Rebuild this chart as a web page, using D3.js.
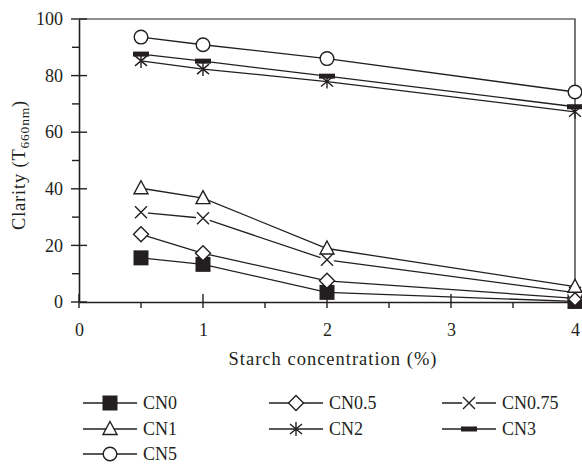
<!DOCTYPE html>
<html>
<head>
<meta charset="utf-8">
<script src="https://cdn.jsdelivr.net/npm/d3@7"></script>
<style>
  body { margin: 0; background: #fff; }
  svg text { font-family: "Liberation Serif", serif; fill: #231f20; }
</style>
</head>
<body>
<svg id="chart" width="582" height="465"></svg>
<script>
// starch concentration (%)
const conc = [0.5, 1, 2, 4];

// clarity (T660nm) for each sample
const cn0   = [15.6, 13.3, 3.4, 0.2];
const cn05  = [23.9, 17.2, 7.5, 1.3];
const cn075 = [31.7, 29.6, 14.9, 3.3];
const cn1   = [40.2, 36.7, 18.9, 5.4];
const cn2   = [85.2, 82.3, 77.9, 67.2];
const cn3   = [87.6, 85.1, 79.8, 69.0];
const cn5   = [93.6, 90.9, 86.0, 74.2];

const seriesNames = ["CN0", "CN0.5", "CN0.75", "CN1", "CN2", "CN3", "CN5"];
const seriesSymbols = ["square", "diamond", "cross", "triangle", "asterisk", "bar", "circle"];
const seriesValues = [cn0, cn05, cn075, cn1, cn2, cn3, cn5];

const xTicks = [0, 1, 2, 3, 4];
const yTicks = [0, 20, 40, 60, 80, 100];

const ink = "#231f20";
const svg = d3.select("svg#chart");

const x = d3.scaleLinear().domain([0, 4]).range([79, 575]);
const y = d3.scaleLinear().domain([0, 100]).range([302, 19]);

// frame: top + right
svg.append("path")
  .attr("d", `M${x(0)},${y(100)}H${x(4)}V${y(0)}`)
  .attr("fill", "none").attr("stroke", ink).attr("stroke-width", 1.2);

// y axis
const gY = svg.append("g").attr("transform", `translate(${x(0)},0)`);
gY.call(d3.axisLeft(y).tickValues(yTicks).tickSize(0).tickPadding(16).tickFormat(d3.format("d")));
gY.select(".domain").attr("stroke", ink).attr("stroke-width", 1.6);
gY.selectAll("text").attr("font-size", 18).attr("font-family", "Liberation Serif").attr("fill", ink);
// major ticks cross the axis, minor ones point out
gY.selectAll("line.major").data(yTicks).enter().append("line")
  .attr("x1", -8).attr("x2", 8).attr("y1", d => y(d)).attr("y2", d => y(d))
  .attr("stroke", ink).attr("stroke-width", 1.4);
gY.selectAll("line.minor").data(d3.range(10, 100, 20)).enter().append("line")
  .attr("x1", -7).attr("x2", 0).attr("y1", d => y(d)).attr("y2", d => y(d))
  .attr("stroke", ink).attr("stroke-width", 1.4);

// x axis
const gX = svg.append("g").attr("transform", `translate(0,${y(0)})`);
gX.call(d3.axisBottom(x).tickValues(xTicks).tickSize(0).tickPadding(21).tickFormat(d3.format("d")));
gX.select(".domain").attr("stroke", ink).attr("stroke-width", 1.6);
gX.selectAll("text").attr("font-size", 18).attr("font-family", "Liberation Serif").attr("fill", ink);
gX.selectAll("line.major").data(xTicks).enter().append("line")
  .attr("y1", -8).attr("y2", 6).attr("x1", d => x(d)).attr("x2", d => x(d))
  .attr("stroke", ink).attr("stroke-width", 1.4);
gX.selectAll("line.minor").data([0.5, 1.5, 2.5, 3.5]).enter().append("line")
  .attr("y1", 0).attr("y2", 6).attr("x1", d => x(d)).attr("x2", d => x(d))
  .attr("stroke", ink).attr("stroke-width", 1.4);

// axis titles
svg.append("text")
  .attr("x", (x(0) + x(4)) / 2 + 6).attr("y", 365)
  .attr("text-anchor", "middle").attr("font-size", 18.5)
  .attr("letter-spacing", 1)
  .text("Starch concentration (%)");

const yt = svg.append("text")
  .attr("transform", "translate(25,165) rotate(-90)")
  .attr("text-anchor", "middle").attr("font-size", 18.5)
  .attr("letter-spacing", 0.8);
yt.append("tspan").text("Clarity (T");
yt.append("tspan").attr("font-size", 13.5).attr("dy", 4).text("660nm");
yt.append("tspan").attr("dy", -4).text(")");

// marker drawing
function marker(g, type) {
  const s = 1.4;
  if (type === "square") {
    g.append("rect").attr("x", -7.5).attr("y", -7.5).attr("width", 15).attr("height", 15)
      .attr("fill", ink);
  } else if (type === "diamond") {
    g.append("path").attr("d", "M0,-7.5L7.5,0L0,7.5L-7.5,0Z")
      .attr("fill", "#fff").attr("stroke", ink).attr("stroke-width", s);
  } else if (type === "cross") {
    g.append("circle").attr("r", 7).attr("fill", "#fff");
    g.append("path").attr("d", "M-6,-6L6,6M-6,6L6,-6")
      .attr("stroke", ink).attr("stroke-width", s);
  } else if (type === "triangle") {
    g.append("path").attr("d", "M0,-7.5L7,5.5L-7,5.5Z")
      .attr("fill", "#fff").attr("stroke", ink).attr("stroke-width", s);
  } else if (type === "asterisk") {
    g.append("path").attr("d", "M0,-7V7M-6,-5L6,5M-6,5L6,-5")
      .attr("stroke", ink).attr("stroke-width", s);
  } else if (type === "bar") {
    g.append("rect").attr("x", -8).attr("y", -2.5).attr("width", 16).attr("height", 5)
      .attr("fill", ink);
  } else if (type === "circle") {
    g.append("circle").attr("r", 6.8)
      .attr("fill", "#fff").attr("stroke", ink).attr("stroke-width", s);
  }
}

const line = d3.line().x((d, i) => x(conc[i])).y(d => y(d));

// lines first, markers on top
seriesValues.forEach(vals => {
  svg.append("path").datum(vals).attr("d", line)
    .attr("fill", "none").attr("stroke", ink).attr("stroke-width", 1.3);
});
seriesValues.forEach((vals, k) => {
  vals.forEach((v, i) => {
    const g = svg.append("g").attr("transform", `translate(${x(conc[i])},${y(v)})`);
    marker(g, seriesSymbols[k]);
  });
});

// legend, 3 columns
const legCols = [83, 269, 442];
const legRows = [403, 429, 454];
seriesNames.forEach((name, k) => {
  const cx = legCols[k % 3], cy = legRows[Math.floor(k / 3)];
  const g = svg.append("g").attr("transform", `translate(${cx},${cy})`);
  g.append("line").attr("x1", 0).attr("x2", 54).attr("y1", 0).attr("y2", 0)
    .attr("stroke", ink).attr("stroke-width", 1.3);
  const m = g.append("g").attr("transform", "translate(27,0)");
  marker(m, seriesSymbols[k]);
  g.append("text").attr("x", 60).attr("y", 6).attr("font-size", 18).text(name);
});
</script>
</body>
</html>
